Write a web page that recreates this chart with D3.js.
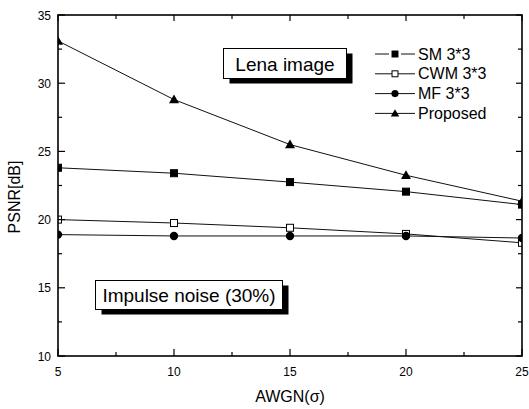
<!DOCTYPE html>
<html><head><meta charset="utf-8">
<script src="https://cdn.jsdelivr.net/npm/d3@7"></script>
<style>body{margin:0;background:#fff;} svg{display:block;font-family:"Liberation Sans",Arial,sans-serif;}</style>
</head><body>
<svg id="c" width="529" height="409"></svg>
<script>
const xValues = [5, 10, 15, 20, 25];
const smValues = [23.8, 23.4, 22.75, 22.05, 21.1];
const cwmValues = [20.0, 19.75, 19.4, 18.95, 18.3];
const mfValues = [18.9, 18.8, 18.8, 18.8, 18.65];
const proposedValues = [33.1, 28.8, 25.5, 23.25, 21.35];
const seriesNames = ["SM 3*3", "CWM 3*3", "MF 3*3", "Proposed"];
const xTicks = [5, 10, 15, 20, 25];
const yTicks = [10, 15, 20, 25, 30, 35];
const xMinor = [7.5, 12.5, 17.5, 22.5];
const yMinor = [12.5, 17.5, 22.5, 27.5, 32.5];

const svg = d3.select("#c");
const L = 58, R = 522, T = 15, B = 356;
const x = d3.scaleLinear().domain([5, 25]).range([L, R]);
const y = d3.scaleLinear().domain([10, 35]).range([B, T]);

svg.append("defs").append("clipPath").attr("id", "clip")
  .append("rect").attr("x", L).attr("y", T).attr("width", R - L).attr("height", B - T);

// Annotation boxes
function box(x0, y0, w, h, text) {
  const g = svg.append("g");
  g.append("rect").attr("x", x0 + 6).attr("y", y0 + 5).attr("width", w).attr("height", h).attr("fill", "#000");
  g.append("rect").attr("x", x0).attr("y", y0).attr("width", w).attr("height", h).attr("fill", "#fff").attr("stroke", "#000").attr("stroke-width", 1);
  g.append("text").attr("x", x0 + w / 2).attr("y", y0 + h / 2 + 7).attr("text-anchor", "middle")
    .attr("font-size", 19).text(text);
}
box(223.5, 48.5, 123, 30, "Lena image");
box(95.5, 280.5, 187, 29, "Impulse noise (30%)");

// Series
const series = [
  {name: seriesNames[0], vals: smValues, marker: "square", fill: "#000"},
  {name: seriesNames[1], vals: cwmValues, marker: "square", fill: "#fff"},
  {name: seriesNames[2], vals: mfValues, marker: "circle", fill: "#000"},
  {name: seriesNames[3], vals: proposedValues, marker: "triangle", fill: "#000"}
];
const line = d3.line().x((d, i) => x(xValues[i])).y(d => y(d));
function drawMarker(g, type, cx, cy, fill, k) {
  if (type === "square") {
    const h = 3.5 * k;
    g.append("rect").attr("x", cx - h).attr("y", cy - h).attr("width", 2 * h).attr("height", 2 * h)
      .attr("fill", fill).attr("stroke", "#000").attr("stroke-width", 1);
  } else if (type === "circle") {
    g.append("circle").attr("cx", cx).attr("cy", cy).attr("r", 4.2 * k).attr("fill", fill);
  } else {
    const h = 5 * k;
    g.append("path").attr("d", `M${cx},${cy - h}L${cx + h},${cy + h * 0.75}L${cx - h},${cy + h * 0.75}Z`).attr("fill", fill);
  }
}
const plot = svg.append("g").attr("clip-path", "url(#clip)");
series.forEach(s => {
  plot.append("path").datum(s.vals).attr("d", line).attr("fill", "none").attr("stroke", "#111").attr("stroke-width", 1);
});
series.forEach(s => {
  s.vals.forEach((v, i) => drawMarker(plot, s.marker, x(xValues[i]), y(v), s.fill, 1));
});

// Frame
svg.append("rect").attr("x", L).attr("y", T).attr("width", R - L).attr("height", B - T)
  .attr("fill", "none").attr("stroke", "#000").attr("stroke-width", 1.6);

// Ticks (inward)
const tk = svg.append("g").attr("stroke", "#000").attr("stroke-width", 1.2);
xTicks.forEach(v => {
  tk.append("line").attr("x1", x(v)).attr("x2", x(v)).attr("y1", B).attr("y2", B - 7);
  tk.append("line").attr("x1", x(v)).attr("x2", x(v)).attr("y1", T).attr("y2", T + 6);
});
xMinor.forEach(v => {
  tk.append("line").attr("x1", x(v)).attr("x2", x(v)).attr("y1", B).attr("y2", B - 4);
  tk.append("line").attr("x1", x(v)).attr("x2", x(v)).attr("y1", T).attr("y2", T + 4);
});
yTicks.forEach(v => {
  tk.append("line").attr("x1", L).attr("x2", L + 7).attr("y1", y(v)).attr("y2", y(v));
  tk.append("line").attr("x1", R).attr("x2", R - 6).attr("y1", y(v)).attr("y2", y(v));
});
yMinor.forEach(v => {
  tk.append("line").attr("x1", L).attr("x2", L + 4).attr("y1", y(v)).attr("y2", y(v));
  tk.append("line").attr("x1", R).attr("x2", R - 4).attr("y1", y(v)).attr("y2", y(v));
});

// Tick labels
svg.append("g").selectAll("text").data(xTicks).join("text")
  .attr("x", d => x(d)).attr("y", B + 20).attr("text-anchor", "middle").attr("font-size", 12).text(d => d);
svg.append("g").selectAll("text").data(yTicks).join("text")
  .attr("x", L - 7).attr("y", d => y(d) + 4.5).attr("text-anchor", "end").attr("font-size", 12).text(d => d);

// Axis titles
svg.append("text").attr("x", (L + R) / 2).attr("y", 402).attr("text-anchor", "middle").attr("font-size", 16).text("AWGN(σ)");
svg.append("text").attr("transform", "translate(20,197) rotate(-90)").attr("text-anchor", "middle").attr("font-size", 16).text("PSNR[dB]");

// Legend
const lg = svg.append("g");
series.forEach((s, i) => {
  const ly = 54 + i * 19.8;
  if (i === 0) {
    lg.append("line").attr("x1", 375).attr("x2", 389).attr("y1", ly).attr("y2", ly).attr("stroke", "#111").attr("stroke-width", 1);
    lg.append("line").attr("x1", 401).attr("x2", 415).attr("y1", ly).attr("y2", ly).attr("stroke", "#111").attr("stroke-width", 1);
  } else {
    lg.append("line").attr("x1", 375).attr("x2", 415).attr("y1", ly).attr("y2", ly).attr("stroke", "#111").attr("stroke-width", 1);
  }
  drawMarker(lg, s.marker, 395, ly, s.fill, 0.85);
  lg.append("text").attr("x", 418).attr("y", ly + 5.5).attr("font-size", 16).text(s.name);
});
</script>
</body></html>
